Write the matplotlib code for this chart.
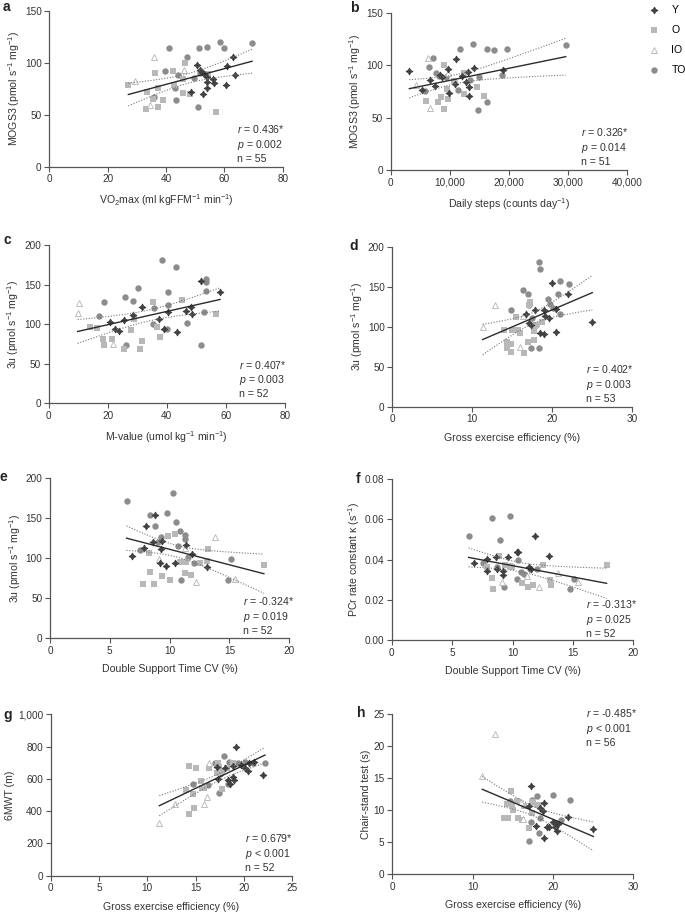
import numpy as np
import matplotlib

matplotlib.use("Agg")
import matplotlib.pyplot as plt
from matplotlib.ticker import FuncFormatter

plt.rcParams["font.family"] = ["Liberation Sans", "DejaVu Sans"]
plt.rcParams["mathtext.fontset"] = "custom"
plt.rcParams["mathtext.rm"] = "Liberation Sans"
plt.rcParams["mathtext.it"] = "Liberation Sans:italic"

# ---- data (x, y per group) ----
# a: VO2max vs MOGS3
a_Y_x = [63.1, 60.8, 63.5, 60.5, 56.6, 56.2, 54.2, 54.2, 52.8, 53.9, 53.0, 51.7, 50.7, 48.6, 52.2]
a_Y_y = [105.4, 97.0, 88.3, 78.4, 80.3, 84.2, 81.9, 75.8, 70.0, 86.7, 89.3, 93.2, 97.7, 72.3, 91.5]
a_O_x = [27.1, 33.4, 36.3, 37.4, 37.4, 35.7, 33.1, 39.1, 42.3, 42.7, 45.7, 46.6, 45.7, 48.2, 57.1, 54.4]
a_O_y = [78.7, 72.3, 89.9, 76.1, 57.8, 65.5, 55.3, 64.2, 92.5, 78.7, 84.2, 99.6, 70.7, 69.7, 52.4, 89.3]
a_IO_x = [29.4, 36.0, 34.5, 46.2]
a_IO_y = [82.9, 106.0, 59.4, 93.2]
a_TO_x = [41.1, 51.4, 54.2, 58.5, 59.9, 69.5, 47.3, 39.8, 44.2, 43.2, 43.3, 49.7, 51.7, 51.0, 35.8]
a_TO_y = [114.7, 114.0, 115.0, 119.8, 114.7, 118.9, 106.0, 92.2, 88.3, 75.5, 64.2, 85.4, 90.0, 57.2, 66.8]

# b: daily steps vs MOGS3
b_Y_x = [3160, 5250, 6670, 7510, 8640, 9660, 9940, 10900, 11020, 12030, 12770, 13160, 13280, 13330,
         14180, 19100, 8360]
b_Y_y = [94.4, 76.3, 85.8, 80.4, 88.3, 96.6, 73.1, 81.7, 105.8, 89.6, 84.2, 93.4, 78.8, 70.2, 97.2, 95.3, 90.2]
b_O_x = [5930, 8530, 8080, 8980, 9100, 9660, 9600, 10790, 12490, 12490, 14690, 15820]
b_O_y = [65.8, 69.9, 64.5, 58.5, 99.8, 67.7, 76.9, 84.8, 92.8, 72.1, 78.8, 70.9]
b_IO_x = [4290, 6380, 6670, 9770]
b_IO_y = [80.7, 106.5, 59.4, 92.8]
b_TO_x = [7120, 6550, 5820, 7630, 8190, 9380, 10740, 11470, 11700, 13900, 13450, 15030, 14860, 16390,
          16390, 17570, 19780, 18930, 29660]
b_TO_y = [106.5, 98.2, 75.3, 92.8, 89.6, 88.3, 84.5, 76.3, 115.0, 120.1, 85.8, 88.3, 57.2, 64.5,
          115.0, 114.4, 115.0, 90.9, 119.2]

# c: M-value vs 3u
c_Y_x = [20.8, 22.5, 23.8, 25.6, 28.4, 31.5, 37.5, 39.2, 40.5, 43.3, 46.4, 48.1, 48.4, 51.6, 58.0]
c_Y_y = [103.2, 93.9, 91.4, 105.3, 111.6, 122.1, 106.5, 93.9, 114.9, 90.5, 117.1, 121.3, 112.8, 154.9, 141.1]
c_O_x = [14.0, 16.2, 18.3, 18.7, 21.4, 25.5, 27.9, 29.0, 30.9, 31.5, 35.4, 36.6, 37.7, 45.2, 56.6]
c_O_y = [96.4, 94.7, 80.8, 73.7, 81.3, 68.6, 92.2, 106.1, 68.2, 78.7, 128.4, 96.0, 83.4, 130.9, 112.4]
c_IO_x = [10.3, 9.8, 21.6]
c_IO_y = [127.2, 113.7, 74.9]
c_TO_x = [17.0, 18.7, 25.8, 26.1, 28.7, 30.2, 35.8, 35.4, 38.3, 39.9, 40.3, 40.5, 43.0, 46.9, 51.7,
          52.6, 53.1, 53.3, 53.3]
c_TO_y = [110.7, 127.6, 134.7, 73.7, 129.3, 146.1, 120.8, 99.8, 181.5, 93.9, 124.2, 141.1, 171.8, 101.9,
          73.7, 114.9, 141.9, 157.1, 153.7]

# d: gross efficiency vs 3u
d_Y_x = [16.7, 17.8, 17.1, 18.4, 18.9, 18.9, 19.1, 19.6, 20.0, 20.4, 20.5, 21.9, 25.0, 17.3]
d_Y_y = [116.3, 121.3, 105.0, 91.7, 90.4, 120.8, 113.8, 110.4, 154.2, 122.1, 92.9, 140.8, 105.8, 102.1]
d_O_x = [14.0, 14.3, 14.4, 14.8, 14.9, 15.0, 15.4, 15.7, 15.9, 17.0, 17.2, 17.1, 16.4, 17.7, 17.7, 18.7, 17.9]
d_O_y = [95.8, 80.4, 72.9, 77.9, 68.3, 95.8, 111.7, 95.8, 92.5, 80.8, 130.4, 127.1, 67.5, 82.9, 94.6,
         106.3, 102.1]
d_IO_x = [11.3, 12.8, 16.3, 16.0]
d_IO_y = [99.2, 126.7, 113.8, 75.0]
d_TO_x = [14.8, 16.3, 17.0, 17.1, 17.4, 17.3, 18.0, 18.3, 18.5, 18.3, 19.5, 19.7, 20.1, 20.7, 21.0, 20.9, 22.1]
d_TO_y = [120.8, 146.3, 140.4, 127.1, 110.4, 73.3, 102.1, 180.8, 171.7, 72.9, 134.2, 128.8, 123.8,
          140.8, 157.1, 115.4, 153.8]

# e: double support time CV vs 3u
e_Y_x = [6.85, 7.86, 8.0, 8.8, 9.39, 8.64, 9.25, 9.19, 9.69, 10.45, 11.4, 11.9, 13.1]
e_Y_y = [102.9, 112.5, 140.4, 153.8, 122.1, 120.0, 111.3, 93.8, 90.8, 93.8, 116.7, 105.0, 89.6]
e_O_x = [8.27, 8.36, 7.8, 8.7, 9.39, 9.83, 10.03, 10.45, 10.86, 11.34, 11.28, 11.75, 12.53, 13.23, 13.15, 17.88]
e_O_y = [106.3, 82.9, 67.5, 68.3, 77.9, 127.9, 72.9, 130.8, 95.8, 95.8, 81.3, 79.6, 93.8, 111.7, 96.7, 92.1]
e_IO_x = [9.14, 11.28, 12.2, 13.8, 15.5]
e_IO_y = [98.8, 113.3, 70.0, 126.3, 74.6]
e_TO_x = [6.4, 7.55, 8.38, 8.77, 9.3, 9.0, 9.78, 10.3, 10.5, 10.86, 10.72, 11.3, 11.3, 11.56, 10.97,
          12.06, 14.85, 15.13]
e_TO_y = [171.7, 110.4, 153.8, 140.4, 127.1, 120.8, 157.1, 181.3, 145.8, 134.2, 115.4, 128.8, 123.8,
          101.3, 72.9, 93.8, 72.5, 98.8]

# f: double support time CV vs PCr rate constant
f_Y_x = [6.84, 7.86, 7.86, 8.63, 8.74, 9.24, 9.24, 9.66, 10.34, 10.48, 11.37, 11.5, 11.86, 13.05]
f_Y_y = [0.0385, 0.0403, 0.0344, 0.0413, 0.0352, 0.0345, 0.0322, 0.0413, 0.0438, 0.0438, 0.0362,
         0.0352, 0.0518, 0.0418]
f_O_x = [8.28, 8.36, 7.86, 8.91, 9.35, 9.79, 9.99, 10.81, 11.26, 11.67, 12.55, 13.1, 13.16, 17.79]
f_O_y = [0.0307, 0.0256, 0.0362, 0.042, 0.0373, 0.0368, 0.0365, 0.0282, 0.0266, 0.0274, 0.0373,
         0.0299, 0.0274, 0.0372]
f_IO_x = [9.16, 11.23, 12.19, 13.74, 15.39]
f_IO_y = [0.0287, 0.0319, 0.0266, 0.0335, 0.0287]
f_TO_x = [6.37, 8.33, 9.79, 8.97, 7.53, 8.69, 9.3, 10.48, 10.34, 10.68, 10.95, 11.45, 12.06, 15.09, 14.76]
f_TO_y = [0.0518, 0.0609, 0.0617, 0.0498, 0.0382, 0.0365, 0.0262, 0.0398, 0.0305, 0.0339, 0.0329,
          0.0354, 0.0354, 0.0302, 0.0252]

# g: gross efficiency vs 6MWT
g_Y_x = [17.24, 18.03, 17.34, 18.38, 18.55, 18.9, 18.97, 19.14, 18.9, 19.69, 20.1, 20.45, 20.5, 21.03, 22.0]
g_Y_y = [671, 667, 597, 593, 568, 614, 593, 800, 680, 688, 665, 651, 696, 707, 624]
g_O_x = [14.0, 14.34, 14.34, 14.83, 14.76, 15.03, 15.52, 15.69, 15.86, 16.41, 17.17, 17.45, 17.34,
         17.69, 17.72, 18.2, 18.83]
g_O_y = [531, 680, 382, 417, 504, 665, 589, 541, 541, 665, 638, 671, 700, 645, 535, 665, 696]
g_IO_x = [11.24, 12.86, 15.9, 16.21, 16.41]
g_IO_y = [324, 444, 444, 486, 696]
g_TO_x = [14.76, 16.31, 17.03, 17.45, 17.97, 18.38, 18.41, 17.52, 19.41, 20.1, 20.97, 22.17]
g_TO_y = [568, 560, 700, 510, 742, 568, 707, 630, 696, 707, 696, 696]

# h: gross efficiency vs chair-stand test
h_Y_x = [17.22, 17.01, 17.88, 18.38, 18.71, 18.88, 18.88, 19.2, 19.54, 20.04, 20.25, 20.46, 20.66, 21.9, 25.02]
h_Y_y = [13.8, 10.6, 7.55, 10.3, 9.95, 11.1, 5.6, 7.34, 7.45, 8.1, 7.45, 6.77, 7.86, 8.9, 7.08]
h_O_x = [13.9, 14.36, 14.23, 14.73, 14.85, 14.98, 15.48, 15.68, 16.1, 16.43, 17.05, 17.55, 18.05, 18.3, 17.43]
h_O_y = [8.8, 8.8, 11.0, 13.0, 10.8, 10.05, 11.5, 8.75, 8.5, 10.7, 7.2, 11.35, 10.8, 10.8, 9.6]
h_IO_x = [11.2, 12.78, 16.02, 16.31]
h_IO_y = [15.3, 22.0, 11.35, 8.6]
h_TO_x = [14.65, 17.05, 17.43, 17.3, 17.97, 18.3, 18.38, 20.04, 20.37, 20.95, 22.12]
h_TO_y = [11.5, 5.26, 11.6, 8.2, 12.2, 6.4, 8.75, 12.4, 7.97, 8.5, 11.6]

stats_a = ["0.436*", "= 0.002", "55"]
stats_b = ["0.326*", "= 0.014", "51"]
stats_c = ["0.407*", "= 0.003", "52"]
stats_d = ["0.402*", "= 0.003", "53"]
stats_e = ["-0.324*", "= 0.019", "52"]
stats_f = ["-0.313*", "= 0.025", "52"]
stats_g = ["0.679*", "< 0.001", "52"]
stats_h = ["-0.485*", "< 0.001", "56"]

MOGS_LABEL = "MOGS3 (pmol s$^{-1}$ mg$^{-1}$)"
U3_LABEL = "3u (pmol s$^{-1}$ mg$^{-1}$)"
GEE_LABEL = "Gross exercise efficiency (%)"
DST_LABEL = "Double Support Time CV (%)"

# group styles
STYLE = {
    "TO": dict(marker="o", ms=4.6, mfc="#8c8c8c", mec="#8c8c8c", mew=0),
    "O": dict(marker="s", ms=4.0, mfc="#b8b8b8", mec="#b8b8b8", mew=0),
    "IO": dict(marker="^", ms=4.2, mfc="white", mec="#bdbdbd", mew=0.7),
    "Y": dict(marker=(4, 1, 0), ms=5.0, mfc="#404040", mec="#404040", mew=0.6),
}
TICK_COL = "#555555"


def fit_band(xs, ys, t=2.01):
    x = np.asarray(xs, float)
    y = np.asarray(ys, float)
    n = len(x)
    slope, icpt = np.polyfit(x, y, 1)
    xx = np.linspace(x.min(), x.max(), 120)
    yhat = slope * xx + icpt
    resid = y - (slope * x + icpt)
    s = np.sqrt((resid ** 2).sum() / (n - 2))
    sxx = ((x - x.mean()) ** 2).sum()
    se = s * np.sqrt(1.0 / n + (xx - x.mean()) ** 2 / sxx)
    return xx, yhat, yhat - t * se, yhat + t * se


def px_rect(l, t, r, b, W=685.0, H=914.0):
    return [l / W, 1 - b / H, (r - l) / W, (b - t) / H]


fig = plt.figure(figsize=(6.85, 9.14), dpi=100)

panels = [
    # letter, rect(px), groups, xlim, xticks, ylim, yticks, xlabel, ylabel, stats, text y, letter pos
    ("a", (49.3, 11, 282.7, 166.7), (a_Y_x, a_Y_y, a_O_x, a_O_y, a_IO_x, a_IO_y, a_TO_x, a_TO_y),
     (0, 80), [0, 20, 40, 60, 80], (0, 150), [0, 50, 100, 150],
     "VO$_2$max (ml kgFFM$^{-1}$ min$^{-1}$)", MOGS_LABEL, stats_a, 0.148, (3, 7)),
    ("b", (390.7, 12.7, 626.7, 170), (b_Y_x, b_Y_y, b_O_x, b_O_y, b_IO_x, b_IO_y, b_TO_x, b_TO_y),
     (0, 40000), [0, 10000, 20000, 30000, 40000], (0, 150), [0, 50, 100, 150],
     "Daily steps (counts day$^{-1}$)", MOGS_LABEL, stats_b, 0.148, (350, 8)),
    ("c", (48.7, 245, 285, 403.3), (c_Y_x, c_Y_y, c_O_x, c_O_y, c_IO_x, c_IO_y, c_TO_x, c_TO_y),
     (0, 80), [0, 20, 40, 60, 80], (0, 200), [0, 50, 100, 150, 200],
     "M-value (umol kg$^{-1}$ min$^{-1}$)", U3_LABEL, stats_c, 0.152, (3, 240)),
    ("d", (392.3, 246.7, 632.3, 406.7), (d_Y_x, d_Y_y, d_O_x, d_O_y, d_IO_x, d_IO_y, d_TO_x, d_TO_y),
     (0, 30), [0, 10, 20, 30], (0, 200), [0, 50, 100, 150, 200],
     GEE_LABEL, U3_LABEL, stats_d, 0.146, (349, 246)),
    ("e", (50, 478.3, 289.3, 638.3), (e_Y_x, e_Y_y, e_O_x, e_O_y, e_IO_x, e_IO_y, e_TO_x, e_TO_y),
     (0, 20), [0, 5, 10, 15, 20], (0, 200), [0, 50, 100, 150, 200],
     DST_LABEL, U3_LABEL, stats_e, 0.144, (-1, 477)),
    ("f", (391.7, 479.3, 633.3, 640), (f_Y_x, f_Y_y, f_O_x, f_O_y, f_IO_x, f_IO_y, f_TO_x, f_TO_y),
     (0, 20), [0, 5, 10, 15, 20], (0, 0.08), [0, 0.02, 0.04, 0.06, 0.08],
     DST_LABEL, "PCr rate constant κ (s$^{-1}$)", stats_f, 0.135, (356, 479)),
    ("g", (50.7, 714.3, 292.3, 875.7), (g_Y_x, g_Y_y, g_O_x, g_O_y, g_IO_x, g_IO_y, g_TO_x, g_TO_y),
     (0, 25), [0, 5, 10, 15, 20, 25], (0, 1000), [0, 200, 400, 600, 800, 1000],
     GEE_LABEL, "6MWT (m)", stats_g, 0.145, (3, 715)),
    ("h", (392.3, 714.3, 633.3, 874.3), (h_Y_x, h_Y_y, h_O_x, h_O_y, h_IO_x, h_IO_y, h_TO_x, h_TO_y),
     (0, 30), [0, 10, 20, 30], (0, 25), [0, 5, 10, 15, 20, 25],
     GEE_LABEL, "Chair-stand test (s)", stats_h, 0.916, (357, 713)),
]

handles = {}
for (letter, rect, grp, xlim, xticks, ylim, yticks, xlab, ylab, st, ty, lpos) in panels:
    ax = fig.add_axes(px_rect(*rect))
    yx, yy, ox, oy, iox, ioy, tox, toy = grp
    for name, gx, gy in (("TO", tox, toy), ("O", ox, oy), ("IO", iox, ioy), ("Y", yx, yy)):
        (h,) = ax.plot(gx, gy, ls="none", zorder=2, **STYLE[name])
        handles[name] = h
    allx = list(yx) + list(ox) + list(iox) + list(tox)
    ally = list(yy) + list(oy) + list(ioy) + list(toy)
    xx, yhat, lo, hi = fit_band(allx, ally)
    ax.plot(xx, yhat, color="#2b2b2b", lw=1.0, zorder=4)
    ax.plot(xx, lo, color="#777777", lw=0.8, ls=(0, (1, 1.5)), zorder=4)
    ax.plot(xx, hi, color="#777777", lw=0.8, ls=(0, (1, 1.5)), zorder=4)

    ax.set_xlim(*xlim)
    ax.set_ylim(*ylim)
    ax.set_xticks(xticks)
    ax.set_yticks(yticks)
    if letter == "b":
        ax.xaxis.set_major_formatter(FuncFormatter(lambda v, p: f"{v:,.0f}"))
    if letter == "g":
        ax.yaxis.set_major_formatter(FuncFormatter(lambda v, p: f"{v:,.0f}"))
    if letter == "f":
        ax.yaxis.set_major_formatter(FuncFormatter(lambda v, p: f"{v:.2f}"))
    for s in ("top", "right"):
        ax.spines[s].set_visible(False)
    for s in ("left", "bottom"):
        ax.spines[s].set_color(TICK_COL)
        ax.spines[s].set_linewidth(0.9)
    ax.tick_params(direction="out", length=3.5, width=0.8, color=TICK_COL,
                   labelsize=7.2, labelcolor="#333333", pad=2)
    ax.set_xlabel(xlab, fontsize=7.6, color="#333333", labelpad=6)
    ax.set_ylabel(ylab, fontsize=7.6, color="#333333", labelpad=2)

    txt = f"$r$ = {st[0]}\n$p$ {st[1]}\nn = {st[2]}"
    ax.text(0.805, ty, txt, transform=ax.transAxes, ha="left", va="center",
            fontsize=7.6, color="#333333", linespacing=1.25)

    fig.text(lpos[0] / 685, 1 - lpos[1] / 914, letter, fontsize=10, fontweight="bold",
             ha="left", va="center", color="#222222")

order = ["Y", "O", "IO", "TO"]
fig.legend([handles[k] for k in order], order, loc="upper left",
           bbox_to_anchor=(644 / 685, 1 - 1 / 914), frameon=False, fontsize=7.6,
           handlelength=1.0, handletextpad=1.2, labelspacing=0.95, borderaxespad=0)

fig.savefig("out.png", dpi=100)
